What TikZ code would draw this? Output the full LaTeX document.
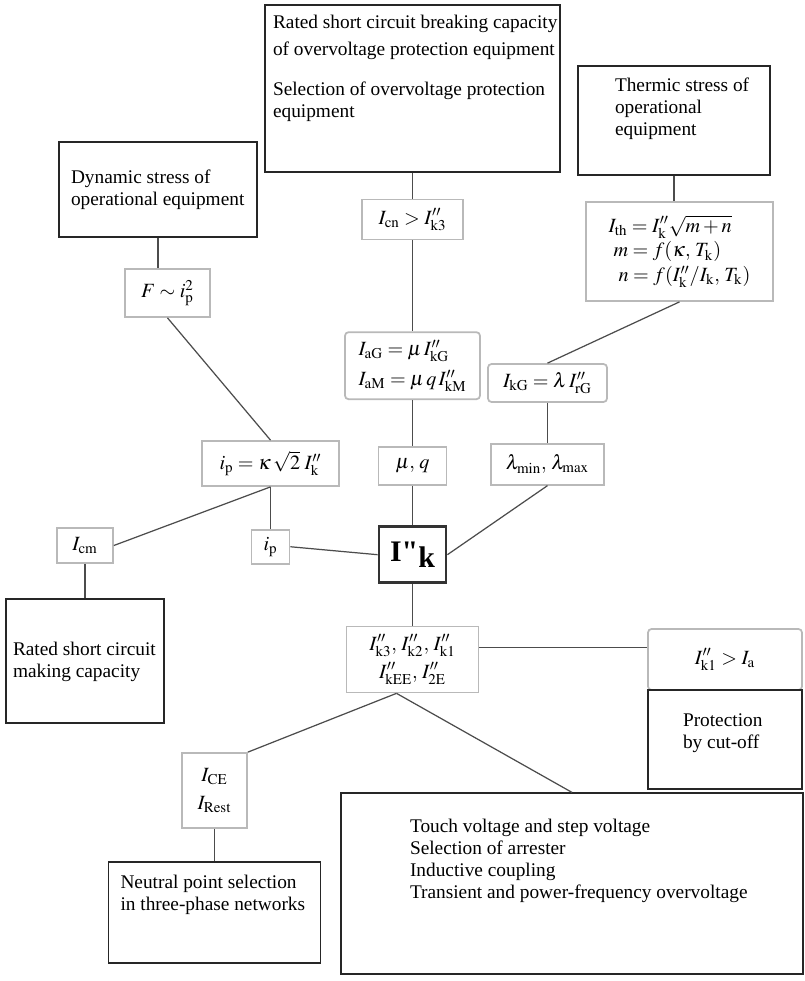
\documentclass[tikz,border=0pt]{standalone}
\usepackage{mathptmx}
\usepackage{fontspec}
\setmainfont{Liberation Serif}
\newfontfamily\plainquote{Liberation Serif}[Ligatures=TeXOff]
\usetikzlibrary{positioning}

% lines of text at the top of a box: width, height, left gap, top gap, lines
\newcommand{\framedlines}[5]{\parbox[c][#2][t]{#1}{\vspace*{#4}\hspace*{#3}%
  \begin{tabular}[t]{@{}l@{}}#5\end{tabular}}}

\begin{document}
\begin{tikzpicture}[x=0.02cm, y=-0.02cm,
        textblock/.style={rectangle, draw=black!85, line width=0.7pt, inner sep=0pt,
                          fill=white, font=\fontsize{11}{12.7}\selectfont},
        formblock/.style={rectangle, draw=gray!55, line width=1pt, inner sep=1pt,
                          fill=white, align=center, font=\fontsize{11.5}{13}\selectfont},
        mainblock/.style={rectangle, draw=black!80, line width=1.6pt,
                          minimum width=1.34cm, minimum height=1.12cm},
        link/.style={draw=black!70, line width=0.7pt}
    ]
    \useasboundingbox (0,0) rectangle (805,981);

    % centre line
    \node [textblock] (brk) at (412.5,88.5) {\framedlines{5.9cm}{3.34cm}{0.16cm}{0.148cm}{%
        Rated short circuit breaking capacity\\[3pt]
        of overvoltage protection equipment\\[10pt]
        Selection of overvoltage protection\\
        equipment}};
    \node [formblock, minimum width=2.02cm, minimum height=0.8cm, below=0.52cm of brk] (icn)
        {$I_{\mathrm{cn}} > I''_{\mathrm{k3}}$};
    \node [formblock, minimum width=2.7cm, minimum height=1.34cm, rounded corners=2pt,
           align=left, below=1.82cm of icn] (iag)
        {$I_{\mathrm{aG}} = \mu\, I''_{\mathrm{kG}}$\\[4pt]$I_{\mathrm{aM}} = \mu\, q\, I''_{\mathrm{kM}}$};
    \node [formblock, minimum width=1.36cm, minimum height=0.76cm, below=0.92cm of iag] (muq)
        {$\mu,\, q$};
    \node [mainblock, below=0.79cm of muq] (ik)
        {\fontsize{17}{20}\selectfont\plainquote\bfseries I"\raisebox{-0.5ex}{k}};
    \node [formblock, minimum width=2.64cm, minimum height=1.32cm, below=0.83cm of ik] (ik3)
        {$I''_{\mathrm{k3}},\, I''_{\mathrm{k2}},\, I''_{\mathrm{k1}}$\\[3pt]
         $I''_{\mathrm{kEE}},\, I''_{\mathrm{2E}}$};

    % right side
    \node [textblock] (thm) at (674,120.5) {\framedlines{3.84cm}{2.18cm}{0.74cm}{0.188cm}{%
        Thermic stress of\\
        operational\\
        equipment}};
    \node [formblock, minimum width=3.74cm, minimum height=1.98cm, align=left] (ith) at (679.5,251.5)
        {$I_{\mathrm{th}} = I''_{\mathrm{k}}\sqrt{m+n}$\\[1pt]
         \hspace*{0.1cm}$m = f(\kappa,\, T_{\mathrm{k}})$\\[1pt]
         \hspace*{0.2cm}$n = f(I''_{\mathrm{k}}/I_{\mathrm{k}},\, T_{\mathrm{k}})$};
    \node [formblock, minimum width=2.38cm, minimum height=0.76cm, rounded corners=2pt] (ikg) at (547.5,383)
        {$I_{\mathrm{kG}} = \lambda\, I''_{\mathrm{rG}}$};
    \node [formblock, minimum width=2.26cm, minimum height=0.82cm, below=0.8cm of ikg] (lam)
        {$\lambda_{\min},\, \lambda_{\max}$};

    % left side
    \node [textblock] (dyn) at (158,189.5) {\framedlines{3.96cm}{1.9cm}{0.24cm}{0.508cm}{%
        Dynamic stress of\\
        operational equipment}};
    \node [formblock, minimum width=1.7cm, minimum height=0.96cm] (fip) at (167.5,293)
        {$F \sim i_{\mathrm{p}}^{2}$};
    \node [formblock, minimum width=2.74cm, minimum height=0.9cm] (ipk) at (270.5,463.5)
        {$i_{\mathrm{p}} = \kappa\,\sqrt{2}\; I''_{\mathrm{k}}$};
    \node [formblock, minimum width=0.76cm, minimum height=0.68cm, below=0.84cm of ipk] (ips)
        {$i_{\mathrm{p}}$};
    \node [formblock, minimum width=1.12cm, minimum height=0.7cm] (icm) at (85,545.5)
        {$I_{\mathrm{cm}}$};
    \node [textblock, below=0.69cm of icm] (mak) {\framedlines{3.16cm}{2.48cm}{0.14cm}{0.808cm}{%
        Rated short circuit\\
        making capacity}};

    % bottom
    \node [formblock, minimum width=3.08cm, minimum height=1.22cm, rounded corners=2pt] (ik1) at (725,659.5)
        {$I''_{\mathrm{k1}} > I_{\mathrm{a}}$};
    \node [textblock, below=-0.03cm of ik1] (prt) {\framedlines{3.08cm}{1.98cm}{0.7cm}{0.408cm}{%
        Protection\\
        by cut-off}};
    \node [formblock, minimum width=1.3cm, minimum height=1.5cm] (ice) at (214.5,790.5)
        {$I_{\mathrm{CE}}$\\[3pt]$I_{\mathrm{Rest}}$};
    \node [textblock, below=0.65cm of ice] (ntr) {\framedlines{4.24cm}{2.02cm}{0.24cm}{0.208cm}{%
        Neutral point selection\\
        in three-phase networks}};
    \node [textblock] (big) at (572,883.5) {\framedlines{9.24cm}{3.62cm}{1.38cm}{0.468cm}{%
        Touch voltage and step voltage\\
        Selection of arrester\\
        Inductive coupling\\
        Transient and power-frequency overvoltage}};

    \draw [link] (brk) -- (icn);
    \draw [link] (icn) -- (iag);
    \draw [link] (iag) -- (muq);
    \draw [link] (muq) -- (ik);
    \draw [link] (ik) -- (ik3);
    \draw [link] (thm.south) -- (thm.south |- ith.north);
    \draw [link] (ith.south) -- (ikg.north);
    \draw [link] (ikg) -- (lam);
    \draw [link] (lam.south) -- (ik.east);
    \draw [link] (dyn.south) -- (dyn.south |- fip.north);
    \draw [link] (fip.south) -- (ipk.north);
    \draw [link] (ipk) -- (ips);
    \draw [link] (ipk.south) -- (icm.east);
    \draw [link] (ips.east) -- (ik.west);
    \draw [link] (icm) -- (mak);
    \draw [link] (ik3.10) -- (ik3.10 -| ik1.west);
    \draw [link] ([xshift=-0.32cm]ik3.south) -- (ice.north east);
    \draw [link] ([xshift=-0.32cm]ik3.south) -- (big.north);
    \draw [link] (ice) -- (ntr);
\end{tikzpicture}
\end{document}
